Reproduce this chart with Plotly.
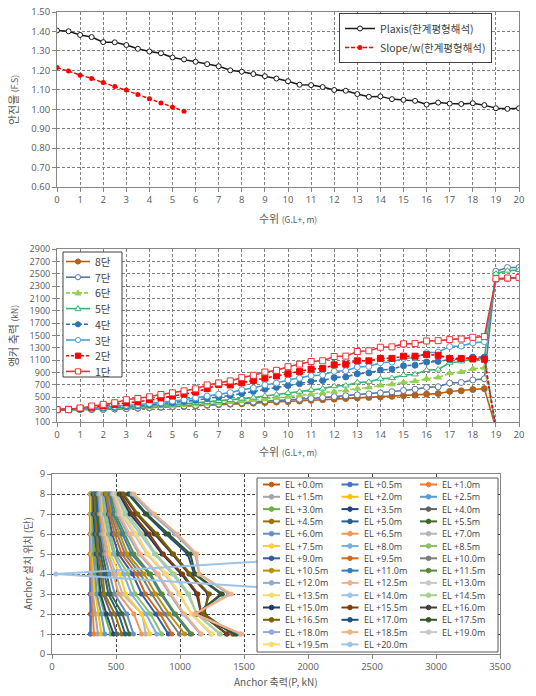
import plotly.graph_objects as go

W, H = 536, 696
FONT = "Noto Sans CJK KR, Noto Sans, sans-serif"
NUM_FONT = "Open Sans, Noto Sans, sans-serif"
TICK_COLOR = "#595959"

# ---------------- data ----------------
WATER_LEVEL = [0, 0.5, 1, 1.5, 2, 2.5, 3, 3.5, 4, 4.5, 5, 5.5, 6, 6.5, 7, 7.5, 8, 8.5, 9, 9.5,
               10, 10.5, 11, 11.5, 12, 12.5, 13, 13.5, 14, 14.5, 15, 15.5, 16, 16.5, 17, 17.5,
               18, 18.5, 19, 19.5, 20]

PLAXIS_FS = [1.405, 1.401, 1.382, 1.371, 1.345, 1.344, 1.330, 1.311, 1.297, 1.288,
             1.266, 1.256, 1.244, 1.232, 1.221, 1.200, 1.193, 1.181, 1.170, 1.158,
             1.144, 1.126, 1.124, 1.114, 1.099, 1.095, 1.078, 1.064, 1.066, 1.052,
             1.048, 1.043, 1.024, 1.034, 1.029, 1.027, 1.031, 1.021, 1.005, 1.002, 1.005]

SLOPEW_LEVEL = [0, 0.5, 1, 1.5, 2, 2.5, 3, 3.5, 4, 4.5, 5, 5.5]
SLOPEW_FS = [1.214, 1.196, 1.175, 1.158, 1.137, 1.117, 1.099, 1.076, 1.054, 1.032, 1.010, 0.990]

# anchor force (kN) per stage vs water level
ANCHOR_1 = [300, 300, 327, 359, 386, 412, 460, 481, 508, 545, 572, 604, 636, 700, 732, 765, 818, 856, 909, 936,
            995, 1037, 1080, 1091, 1160, 1166, 1241, 1252, 1310, 1316, 1364, 1369, 1412, 1417, 1433, 1444,
            1471, 1482, 2420, 2430, 2440]
ANCHOR_2 = [300, 305, 320, 340, 365, 385, 410, 425, 460, 490, 520, 550, 585, 640, 705, 700, 735, 770, 810, 845,
            880, 915, 955, 965, 1025, 1035, 1090, 1090, 1130, 1130, 1165, 1165, 1190, 1180, 1130, 1130,
            1120, 1115, 0, None, None]
ANCHOR_3 = [300, 300, 310, 320, 340, 350, 370, 380, 400, 410, 440, 460, 490, 520, 550, 575, 620, 650, 700, 730,
            780, 810, 850, 860, 920, 930, 990, 1000, 1060, 1070, 1130, 1140, 1220, 1230, 1320, 1330,
            1380, 1400, 2400, 2420, 2430]
ANCHOR_4 = [300, 300, 305, 315, 325, 335, 350, 365, 380, 395, 410, 430, 450, 480, 500, 530, 560, 595, 630, 660,
            690, 720, 760, 770, 820, 830, 880, 895, 940, 955, 1010, 1020, 1070, 1080, 1110, 1120,
            1150, 1150, 0, None, None]
ANCHOR_5 = [300, 300, 300, 305, 315, 325, 335, 345, 355, 365, 380, 395, 410, 425, 440, 455, 480, 495, 520, 545,
            570, 590, 620, 640, 680, 690, 740, 750, 800, 810, 860, 870, 940, 950, 1060, 1080,
            1120, 1130, 2500, 2550, 2560]
ANCHOR_6 = [300, 300, 300, 305, 310, 318, 325, 335, 345, 355, 365, 375, 385, 398, 410, 425, 440, 455, 470, 490,
            510, 530, 550, 570, 590, 610, 640, 660, 690, 710, 740, 760, 800, 820, 890, 910,
            960, 980, 0, None, None]
ANCHOR_7 = [300, 300, 300, 302, 305, 312, 318, 325, 335, 342, 350, 360, 370, 380, 390, 400, 410, 425, 440, 450,
            460, 470, 480, 495, 510, 525, 540, 555, 570, 590, 610, 630, 660, 670, 730, 740,
            780, 800, 2540, 2600, 2600]
ANCHOR_8 = [300, 300, 300, 302, 305, 310, 315, 322, 330, 338, 345, 352, 360, 370, 380, 388, 395, 405, 415, 422,
            430, 440, 450, 460, 470, 480, 490, 498, 505, 515, 525, 535, 550, 560, 595, 605,
            625, 640, 0, None, None]

STAGE_NAMES = ["8단", "7단", "6단", "5단", "4단", "3단", "2단", "1단"]
STAGE_SERIES = [ANCHOR_8, ANCHOR_7, ANCHOR_6, ANCHOR_5, ANCHOR_4, ANCHOR_3, ANCHOR_2, ANCHOR_1]

# bottom chart: stage positions and anchor forces at the highest water levels
STAGES = [1, 2, 3, 4, 5, 6, 7, 8]
BOTTOM_EL19_0 = [2420, None, 2400, None, 2500, None, 2540, None]
BOTTOM_EL19_5 = [2430, None, 2420, None, 2550, None, 2600, None]
BOTTOM_EL20_0 = [2440, None, 2430, 30, 2560, None, 2600, None]

EL_LABELS = ["EL +0.0m", "EL +0.5m", "EL +1.0m", "EL +1.5m", "EL +2.0m", "EL +2.5m", "EL +3.0m",
             "EL +3.5m", "EL +4.0m", "EL +4.5m", "EL +5.0m", "EL +5.5m", "EL +6.0m", "EL +6.5m",
             "EL +7.0m", "EL +7.5m", "EL +8.0m", "EL +8.5m", "EL +9.0m", "EL +9.5m", "EL +10.0m",
             "EL +10.5m", "EL +11.0m", "EL +11.5m", "EL +12.0m", "EL +12.5m", "EL +13.0m", "EL +13.5m",
             "EL +14.0m", "EL +14.5m", "EL +15.0m", "EL +15.5m", "EL +16.0m", "EL +16.5m", "EL +17.0m",
             "EL +17.5m", "EL +18.0m", "EL +18.5m", "EL +19.0m", "EL +19.5m", "EL +20.0m"]

# ---------------- styles ----------------
EL_COLORS = ["#C55A11", "#4472C4", "#ED7D31", "#A5A5A5", "#FFC000", "#5B9BD5", "#70AD47",
             "#264478", "#636363", "#997300", "#255E91", "#43682B", "#698ED0", "#F1975A",
             "#B7B7B7", "#FFCD33", "#7CAFDD", "#8CC168", "#335AA1", "#D26A1E", "#7B7B7B",
             "#BF9000", "#327DC2", "#5A8A3A", "#8FAADC", "#F4B183", "#C9C9C9", "#FFD966",
             "#9DC3E6", "#A9D18E", "#203864", "#843C0C", "#404040", "#7F6000", "#1F4E79",
             "#375623", "#8FAADC", "#F4B183", "#C9C9C9", "#FFD966", "#9DC3E6"]

STAGE_STYLES = [
    dict(color="#B0621E", dash="solid", symbol="circle", fill=True),
    dict(color="#5A76A6", dash="solid", symbol="circle", fill=False),
    dict(color="#92D050", dash="4px,2px", symbol="triangle-up", fill=True),
    dict(color="#3CB371", dash="solid", symbol="triangle-up", fill=False),
    dict(color="#2E75B6", dash="4px,2px", symbol="circle", fill=True),
    dict(color="#4A9FD8", dash="solid", symbol="circle", fill=False),
    dict(color="#FF0000", dash="3px,2px", symbol="square", fill=True),
    dict(color="#EE3338", dash="solid", symbol="square", fill=False),
]


def px_x(px):
    return px / W


def px_y(py):
    return 1 - py / H


fig = go.Figure()

# ---------------- top chart ----------------
fig.add_trace(go.Scatter(
    x=WATER_LEVEL, y=PLAXIS_FS, name="Plaxis(한계평형해석)", mode="lines+markers",
    line=dict(color="#1A1A1A", width=1.5),
    marker=dict(symbol="circle", size=5, color="white", line=dict(color="#1A1A1A", width=1)),
    xaxis="x", yaxis="y", legend="legend"))
fig.add_trace(go.Scatter(
    x=SLOPEW_LEVEL, y=SLOPEW_FS, name="Slope/w(한계평형해석)", mode="lines+markers",
    line=dict(color="#FF0000", width=1.5, dash="4px,2px"),
    marker=dict(symbol="circle", size=5, color="#FF0000"),
    xaxis="x", yaxis="y", legend="legend"))

# ---------------- middle chart ----------------
for name, vals, st in zip(STAGE_NAMES, STAGE_SERIES, STAGE_STYLES):
    fig.add_trace(go.Scatter(
        x=WATER_LEVEL, y=vals, name=name, mode="lines+markers", showlegend=False,
        line=dict(color=st["color"], width=1.6, dash=st["dash"]),
        marker=dict(symbol=st["symbol"], size=6, color=st["color"] if st["fill"] else "white",
                    line=dict(color=st["color"], width=1)),
        xaxis="x2", yaxis="y2"))

# ---------------- bottom chart ----------------
stage_by_level = [ANCHOR_1, ANCHOR_2, ANCHOR_3, ANCHOR_4, ANCHOR_5, ANCHOR_6, ANCHOR_7, ANCHOR_8]
high_levels = [BOTTOM_EL19_0, BOTTOM_EL19_5, BOTTOM_EL20_0]
for i, (lab, col) in enumerate(zip(EL_LABELS, EL_COLORS)):
    if i < 38:
        xs = [s[i] for s in stage_by_level]
    else:
        xs = high_levels[i - 38]
    fig.add_trace(go.Scatter(
        x=xs, y=STAGES, name=lab, mode="lines+markers", showlegend=False,
        line=dict(color=col, width=2), marker=dict(symbol="circle", size=5, color=col),
        xaxis="x3", yaxis="y3"))


# ---------------- axes ----------------
def axis(domain, rng, dtick, grid="#808080", anchor=None, fmt=None, tick0=None, fsize=9.5):
    d = dict(domain=domain, range=rng, dtick=dtick, showline=True, linecolor="#868686",
             linewidth=1, mirror=True, ticks="outside", ticklen=4, tickcolor="#868686",
             showgrid=True, gridcolor=grid, griddash="3px,2px", gridwidth=1, zeroline=False,
             tickfont=dict(family=NUM_FONT, size=fsize, color=TICK_COLOR), automargin=False,
             fixedrange=True)
    if anchor:
        d["anchor"] = anchor
    if fmt:
        d["tickformat"] = fmt
    if tick0 is not None:
        d["tick0"] = tick0
    return d


XD_TOP = [px_x(57), px_x(519)]
XD_BOT = [px_x(52), px_x(500)]

fig.update_layout(
    xaxis=axis(XD_TOP, [0, 20], 1, anchor="y", tick0=0),
    yaxis=axis([px_y(187), px_y(12)], [0.6, 1.5], 0.1, anchor="x", fmt=".2f", tick0=0.6),
    xaxis2=axis(XD_TOP, [0, 20], 1, anchor="y2", tick0=0),
    yaxis2=axis([px_y(422), px_y(249)], [100, 2900], 200, anchor="x2", tick0=100, fsize=9),
    xaxis3=axis(XD_BOT, [0, 3500], 500, grid="#404040", anchor="y3", tick0=0),
    yaxis3=axis([px_y(654), px_y(474)], [0, 9], 1, grid="#404040", anchor="x3", tick0=0),
)

# ---------------- legends ----------------
fig.update_layout(
    legend=dict(x=px_x(339), y=px_y(13), xanchor="left", yanchor="top",
                bgcolor="white", bordercolor="#404040", borderwidth=1,
                font=dict(family=FONT, size=10.5, color="#404040"), tracegroupgap=0),
)

shapes = []
annotations = []


def symbol_shape(kind, filled, color, cx, cy, r):
    fill = color if filled else "white"
    base = dict(xref="paper", yref="paper", layer="above", fillcolor=fill,
                line=dict(color=color, width=1))
    if kind == "circle":
        base.update(type="circle", x0=px_x(cx - r), x1=px_x(cx + r), y0=px_y(cy + r), y1=px_y(cy - r))
    elif kind == "square":
        base.update(type="rect", x0=px_x(cx - r), x1=px_x(cx + r), y0=px_y(cy + r), y1=px_y(cy - r))
    else:
        path = "M{:.5f},{:.5f} L{:.5f},{:.5f} L{:.5f},{:.5f} Z".format(
            px_x(cx), px_y(cy - r * 1.15), px_x(cx - r * 1.1), px_y(cy + r * 0.8),
            px_x(cx + r * 1.1), px_y(cy + r * 0.8))
        base.update(type="path", path=path)
    return base


# middle chart legend (compact rows like the reference)
MX0, MX1, MY0, MY1 = 63, 122, 252, 377
shapes.append(dict(type="rect", xref="paper", yref="paper", layer="above",
                   x0=px_x(MX0), x1=px_x(MX1), y0=px_y(MY1), y1=px_y(MY0),
                   fillcolor="white", line=dict(color="#404040", width=1)))
M_ROW0, M_DY = 261.5, 15.7
for i, (name, st) in enumerate(zip(STAGE_NAMES, STAGE_STYLES)):
    sy = M_ROW0 + i * M_DY
    shapes.append(dict(type="line", xref="paper", yref="paper", layer="above",
                       x0=px_x(66), x1=px_x(90), y0=px_y(sy), y1=px_y(sy),
                       line=dict(color=st["color"], width=1.6, dash=st["dash"])))
    shapes.append(symbol_shape(st["symbol"], st["fill"], st["color"], 78, sy, 2.6))
    annotations.append(dict(xref="paper", yref="paper", x=px_x(93), y=px_y(sy),
                            xanchor="left", yanchor="middle", showarrow=False, text=name,
                            font=dict(family=FONT, size=10.5, color="#404040")))

# bottom chart legend box (drawn as layout items so that it fits 14 rows)
LX0, LX1, LY0, LY1 = 257, 498, 478, 652
shapes.append(dict(type="rect", xref="paper", yref="paper", layer="above",
                   x0=px_x(LX0), x1=px_x(LX1), y0=px_y(LY1), y1=px_y(LY0),
                   fillcolor="white", line=dict(color="#595959", width=1)))
COL_X = [263, 341.5, 420]
ROW_Y0, ROW_DY = 484.5, 12.3
for i, (lab, col) in enumerate(zip(EL_LABELS, EL_COLORS)):
    r, c = divmod(i, 3)
    sx, sy = COL_X[c], ROW_Y0 + r * ROW_DY
    shapes.append(dict(type="line", xref="paper", yref="paper", layer="above",
                       x0=px_x(sx), x1=px_x(sx + 17), y0=px_y(sy), y1=px_y(sy),
                       line=dict(color=col, width=2)))
    shapes.append(symbol_shape("circle", True, col, sx + 8.5, sy, 2.3))
    annotations.append(dict(xref="paper", yref="paper", x=px_x(sx + 20), y=px_y(sy),
                            xanchor="left", yanchor="middle", showarrow=False, text=lab,
                            font=dict(family=NUM_FONT, size=9, color="#404040")))


# axis titles
def title(text, x, y, angle=0, size=11):
    annotations.append(dict(xref="paper", yref="paper", x=px_x(x), y=px_y(y), text=text,
                            showarrow=False, textangle=angle, xanchor="center", yanchor="middle",
                            font=dict(family=FONT, size=size, color=TICK_COLOR)))


SMALL = "<span style='font-size:8.5px'>{}</span>"
title("수위 " + SMALL.format("(G.L+, m)"), 288, 218)
title("안전율 " + SMALL.format("(F.S)"), 13, 100, -90)
title("수위 " + SMALL.format("(G.L+, m)"), 288, 451)
title("앵커 축력 " + SMALL.format("(kN)"), 13, 336, -90)
title("Anchor 축력(P, kN)", 276, 681, size=10)
title("Anchor 설치 위치 (단)", 27, 564, -90, size=10)

fig.update_layout(
    width=W, height=H, margin=dict(l=0, r=0, t=0, b=0),
    paper_bgcolor="white", plot_bgcolor="white",
    font=dict(family=FONT, color=TICK_COLOR),
    shapes=shapes, annotations=annotations,
)

fig.write_html("out.html", config={"displayModeBar": False},
               post_script="document.body.style.margin='0';")
